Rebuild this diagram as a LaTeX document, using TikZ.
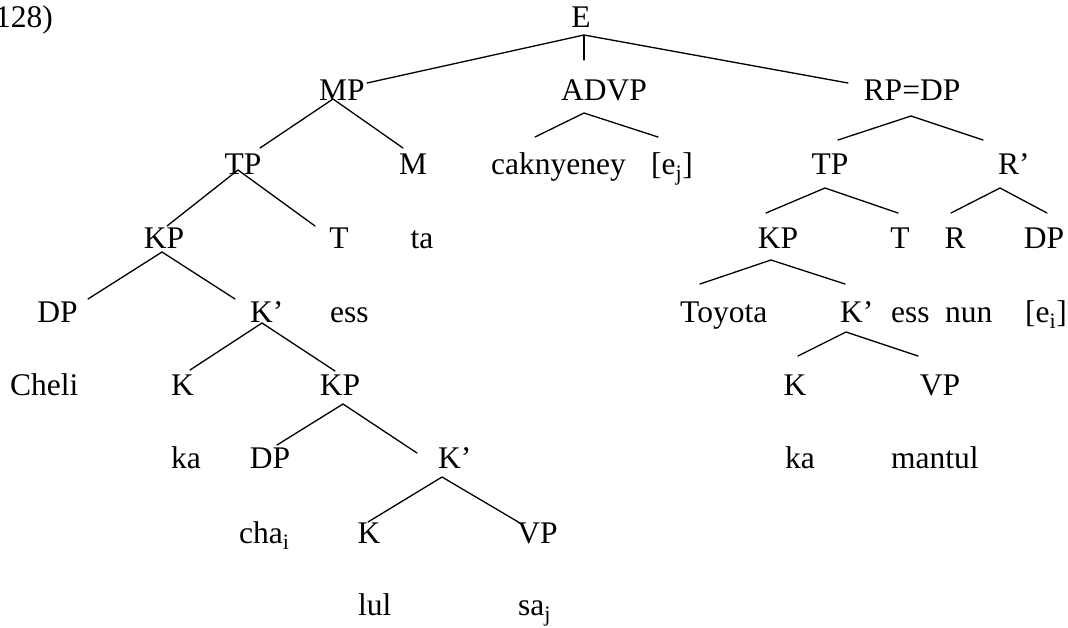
\documentclass[tikz,border=0pt]{standalone}
\usepackage{fontspec}
\setmainfont{Liberation Serif}
\begin{document}
\begin{tikzpicture}[x=1pt,y=-1pt,
  lbl/.style={inner sep=0pt,anchor=base,font=\fontsize{31.5}{36}\selectfont},
  lbll/.style={lbl,anchor=base west},
  edge/.style={line width=1.3pt,line cap=round}]
\useasboundingbox (0,0) rectangle (1068,627);
\fill[white] (0,0) rectangle (1068,627);
% ---- labels ----
\node[lbl,anchor=base east] (ex) at (53,27) {128)};
\node[lbl] (E) at (581,27) {E};
% row 1
\node[lbl] (MP) at (342,100) {MP};
\node[lbl] (ADVP) at (604,100) {ADVP};
\node[lbl] (RP) at (912,100) {RP=DP};
% row 2
\node[lbl] (TPl) at (243,174) {TP};
\node[lbl] (M) at (413,174) {M};
\node[lbll] (cak) at (491,174) {caknyeney};
\node[lbll] (ej) at (651,174) {[e\textsubscript{j}]};
\node[lbl] (TPr) at (830,174) {TP};
\node[lbll] (Rb) at (998,174) {R’};
% row 3
\node[lbl] (KPl) at (164,248) {KP};
\node[lbl] (Tl) at (339,248) {T};
\node[lbl] (ta) at (422,248) {ta};
\node[lbl] (KPr) at (778,248) {KP};
\node[lbl] (Tr) at (900,248) {T};
\node[lbl] (R) at (955,248) {R};
\node[lbl] (DPr) at (1044,248) {DP};
% row 4
\node[lbl] (DPl) at (57.5,322) {DP};
\node[lbll] (Kbl) at (250,322) {K’};
\node[lbll] (essl) at (330,322) {ess};
\node[lbll] (toy) at (680,322) {Toyota};
\node[lbll] (Kbr) at (840,322) {K’};
\node[lbll] (essr) at (891,322) {ess};
\node[lbll] (nun) at (945,322) {nun};
\node[lbll] (ei) at (1025,322) {[e\textsubscript{i}]};
% row 5
\node[lbll] (cheli) at (10,395.5) {Cheli};
\node[lbl] (Kl) at (182.5,395.5) {K};
\node[lbl] (KPm) at (340,395.5) {KP};
\node[lbl] (Kr) at (795,395.5) {K};
\node[lbl] (VPr) at (940,395.5) {VP};
% row 6
\node[lbll] (kal) at (171,468) {ka};
\node[lbl] (DPm) at (270,468) {DP};
\node[lbll] (Kbm) at (438,468) {K’};
\node[lbll] (kar) at (785,468) {ka};
\node[lbll] (mantul) at (891,468) {mantul};
% row 7
\node[lbll] (cha) at (239,543) {cha\textsubscript{i}};
\node[lbl] (Kb) at (369,543) {K};
\node[lbl] (VPb) at (537.5,543) {VP};
% row 8
\node[lbll] (lul) at (358,615) {lul};
\node[lbll] (sa) at (518,615) {sa\textsubscript{j}};
% ---- branch points ----
\coordinate (Ea) at (584,35);
\coordinate (Ev) at (584,60);
\coordinate (MPt) at (367,83);
\coordinate (RPt) at (848,83);
\coordinate (MPa) at (333,99);
\coordinate (TPlt) at (260,148);
\coordinate (Mt) at (403,148);
\coordinate (ADVPa) at (584,113);
\coordinate (cakt) at (535,137);
\coordinate (ejt) at (658,137);
\coordinate (RPa) at (911,116);
\coordinate (TPrt) at (838,140);
\coordinate (Rbt) at (983,140);
\coordinate (TPla) at (238,170);
\coordinate (KPlt) at (167,226);
\coordinate (Tlt) at (315,226);
\coordinate (TPra) at (825,188);
\coordinate (KPrt) at (766,213);
\coordinate (Trt) at (898,213);
\coordinate (Rba) at (1000,188);
\coordinate (Rt) at (951,213);
\coordinate (DPrt) at (1047,213);
\coordinate (KPla) at (162,252);
\coordinate (DPlt) at (88,299);
\coordinate (Kblt) at (235,299);
\coordinate (KPra) at (771,260);
\coordinate (toyt) at (700,284);
\coordinate (Kbrt) at (845,284);
\coordinate (Kbla) at (262,323);
\coordinate (Klt) at (190,370);
\coordinate (KPmt) at (335,371);
\coordinate (Kbra) at (846,332);
\coordinate (Krt) at (798,356);
\coordinate (VPrt) at (918,356);
\coordinate (KPma) at (343,404);
\coordinate (DPmt) at (277,445);
\coordinate (Kbmt) at (417,453);
\coordinate (Kbma) at (442,477);
\coordinate (Kbt) at (368,522);
\coordinate (VPbt) at (520,523);
% ---- connectors ----
\draw[edge] (MPt) -- (Ea) -- (RPt);
\draw[edge] (Ea) -- (Ev);
\draw[edge] (TPlt) -- (MPa) -- (Mt);
\draw[edge] (cakt) -- (ADVPa) -- (ejt);
\draw[edge] (TPrt) -- (RPa) -- (Rbt);
\draw[edge] (KPlt) -- (TPla) -- (Tlt);
\draw[edge] (KPrt) -- (TPra) -- (Trt);
\draw[edge] (Rt) -- (Rba) -- (DPrt);
\draw[edge] (DPlt) -- (KPla) -- (Kblt);
\draw[edge] (toyt) -- (KPra) -- (Kbrt);
\draw[edge] (Klt) -- (Kbla) -- (KPmt);
\draw[edge] (Krt) -- (Kbra) -- (VPrt);
\draw[edge] (DPmt) -- (KPma) -- (Kbmt);
\draw[edge] (Kbt) -- (Kbma) -- (VPbt);
\end{tikzpicture}
\end{document}
